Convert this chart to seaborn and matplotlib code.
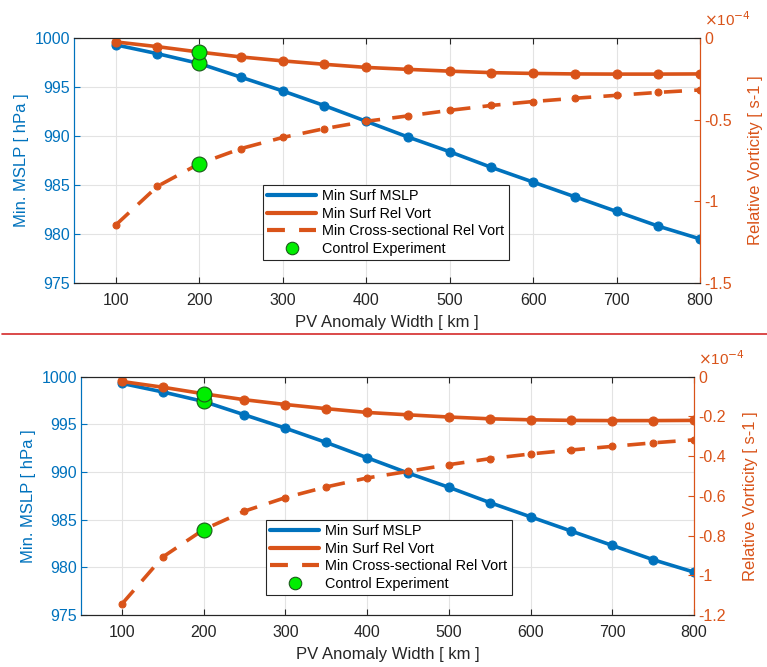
import numpy as np
import pandas as pd
import matplotlib
matplotlib.use("Agg")
import matplotlib.pyplot as plt
from matplotlib.lines import Line2D
import seaborn as sns

# ---- data ----
width_km = [100, 150, 200, 250, 300, 350, 400, 450, 500, 550, 600, 650, 700, 750, 800]
min_mslp = [999.3, 998.4, 997.4, 996.0, 994.6, 993.1, 991.5, 989.9, 988.4, 986.8, 985.3, 983.8, 982.3, 980.8, 979.5]
surf_relvort = [-0.024, -0.053, -0.086, -0.116, -0.140, -0.161, -0.180, -0.192, -0.203, -0.212, -0.217, -0.220, -0.221, -0.221, -0.220]
cross_relvort = [-1.145, -0.908, -0.770, -0.677, -0.609, -0.555, -0.510, -0.477, -0.443, -0.413, -0.389, -0.369, -0.351, -0.333, -0.318]
control_width = 200
left_ticks = [975, 980, 985, 990, 995, 1000]
x_ticks = [100, 200, 300, 400, 500, 600, 700, 800]
right_ticks_top = [0, -0.5, -1, -1.5]
right_ticks_bottom = [0, -0.2, -0.4, -0.6, -0.8, -1, -1.2]

BLUE = "#0072BD"
ORANGE = "#D95319"
GREEN = "#00EE00"
DARK = "#262626"
DASH = (0, (5, 3.4))

df = pd.DataFrame({"width": width_km, "mslp": min_mslp,
                   "surf": surf_relvort, "cross": cross_relvort})
ctrl = df[df["width"] == control_width]

sns.set_style("whitegrid")
plt.rcParams["font.family"] = ["Liberation Sans", "DejaVu Sans"]

fig = plt.figure(figsize=(7.67, 6.67), dpi=100)

def fmt(v):
    if v == 0:
        return "0"
    return "%g" % v

def panel(rect, rticks, legend_rect):
    ax = fig.add_axes(rect)
    ax2 = ax.twinx()
    sns.lineplot(data=df, x="width", y="mslp", ax=ax, color=BLUE, lw=2.6,
                 marker="o", markersize=6.5, markeredgecolor=BLUE)
    sns.lineplot(data=df, x="width", y="surf", ax=ax2, color=ORANGE, lw=2.6,
                 marker="o", markersize=6.5, markeredgecolor=ORANGE)
    sns.lineplot(data=df, x="width", y="cross", ax=ax2, color=ORANGE, lw=2.6,
                 marker="o", markersize=5, markeredgecolor=ORANGE,
                 dashes=False, linestyle=DASH)
    # control experiment
    for a, col in ((ax, "mslp"), (ax2, "surf"), (ax2, "cross")):
        a.scatter(ctrl["width"], ctrl[col], s=115, color=GREEN, edgecolor="#1a5a1a",
                  linewidth=0.8, zorder=10)

    ax.set_xlim(50, 800)
    ax.set_ylim(975, 1000)
    ax2.set_ylim(rticks[-1], 0)
    ax.set_xticks(x_ticks)
    ax.set_yticks(left_ticks)
    ax2.set_yticks(rticks)
    ax2.set_yticklabels([fmt(t) for t in rticks])
    ax.grid(True, color="#e3e3e3", lw=0.8)
    ax2.grid(False)
    ax.set_facecolor("white")

    ax.set_xlabel("PV Anomaly Width [ km ]", fontsize=12, color=DARK, labelpad=5)
    ax.set_ylabel("Min. MSLP [ hPa ]", fontsize=12, color=BLUE, labelpad=4)
    ax2.set_ylabel("Relative Vorticity [ s-1 ]", fontsize=12, color=ORANGE, labelpad=12)

    ax.tick_params(axis="x", colors=DARK, labelsize=11.5, direction="in", length=4,
                   top=True, bottom=True, pad=7)
    ax.tick_params(axis="y", colors=BLUE, labelsize=11.5, direction="in", length=4, pad=3)
    ax2.tick_params(axis="y", colors=ORANGE, labelsize=11.5, direction="in", length=4, pad=3)
    for a in (ax, ax2):
        a.spines["top"].set_color(DARK)
        a.spines["bottom"].set_color(DARK)
        a.spines["left"].set_color(BLUE)
        a.spines["right"].set_color(ORANGE)
        for s in a.spines.values():
            s.set_linewidth(0.8)
            s.set_visible(True)
    ax.text(1.006, 1.035, r"$\times$10$^{-4}$", transform=ax.transAxes, color=ORANGE,
            fontsize=11, ha="left", va="bottom")

    handles = [
        Line2D([], [], color=BLUE, lw=3.0),
        Line2D([], [], color=ORANGE, lw=3.0),
        Line2D([], [], color=ORANGE, lw=3.0, linestyle=(0, (4.3, 3.4))),
        Line2D([], [], color=GREEN, marker="o", linestyle="none", markersize=9,
               markeredgecolor="#1a5a1a", markeredgewidth=0.8),
    ]
    labels = ["Min Surf MSLP", "Min Surf Rel Vort", "Min Cross-sectional Rel Vort",
              "Control Experiment"]
    leg = fig.legend(handles, labels, loc="upper left",
                     bbox_to_anchor=legend_rect, bbox_transform=fig.transFigure,
                     fontsize=10.4, frameon=True, fancybox=False, framealpha=1,
                     edgecolor=DARK, handlelength=3.4, borderpad=0.3,
                     labelspacing=0.24, handletextpad=0.4, borderaxespad=0)
    leg.get_frame().set_linewidth(0.8)
    for t in leg.get_texts():
        t.set_color("black")
    return ax, ax2

panel([74 / 767, 1 - 283 / 667, 626 / 767, 245 / 667], right_ticks_top,
      (263 / 767, 1 - 185 / 667))
panel([81 / 767, 1 - 615 / 667, 613 / 767, 238.3 / 667], right_ticks_bottom,
      (266 / 767, 1 - 520 / 667))

# separator line
fig.add_artist(Line2D([2 / 767, 1.0], [1 - 334 / 667, 1 - 334 / 667],
                      transform=fig.transFigure, color="#D42A2A", lw=1.2))

fig.savefig("out.png", dpi=100, facecolor="white")
